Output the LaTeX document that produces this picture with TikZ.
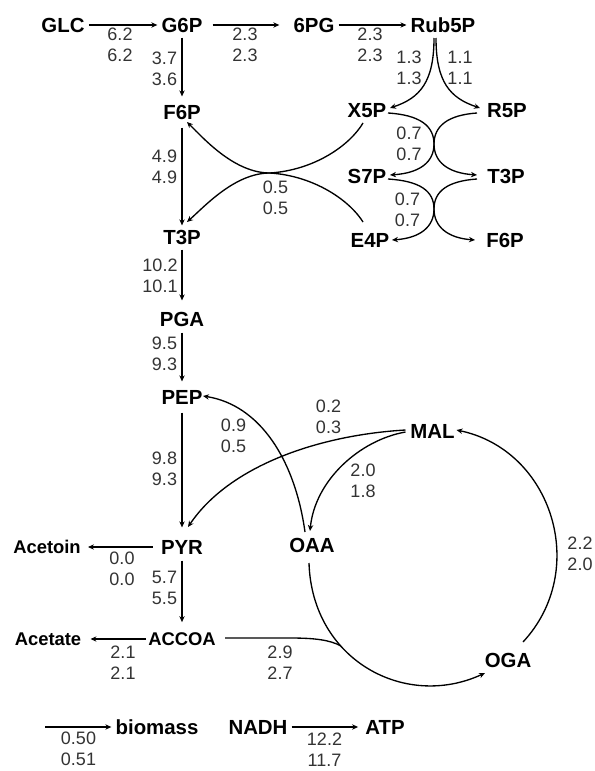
\documentclass[tikz,border=0pt]{standalone}
\usepackage{fontspec}
\setmainfont{Liberation Sans}
\usetikzlibrary{arrows.meta,calc}
\begin{document}
\begin{tikzpicture}[x=0.75pt,y=-0.75pt,
  met/.style={font=\fontsize{15.3}{18}\selectfont\bfseries, inner sep=3pt, text height=11pt, text depth=0pt, text=black},
  metsm/.style={met, font=\fontsize{13.8}{16}\selectfont\bfseries, text height=9.9pt},
  num/.style={font=\fontsize{13.5}{15.75}\selectfont, align=center, inner sep=0pt, text=black!80},
  arr/.style={-{Stealth[length=4.5pt,width=4pt]}, line width=1pt},
  ln/.style={line width=1pt}]
\useasboundingbox (0,0) rectangle (595,771);
% metabolites
\node[met] (GLC) at (63,25) {GLC};
\node[met] (G6P) at (182,25) {G6P};
\node[met] (6PG) at (314,25) {6PG};
\node[met] (Rub5P) at (443,25) {Rub5P};
\node[met] (F6P) at (182,112) {F6P};
\node[met] (X5P) at (367,110) {X5P};
\node[met] (R5P) at (507,110) {R5P};
\node[met] (S7P) at (367,176) {S7P};
\node[met] (T3Pr) at (506,176) {T3P};
\node[met] (E4P) at (370,240) {E4P};
\node[met] (F6Pr) at (505,240) {F6P};
\node[met] (T3P) at (182,237) {T3P};
\node[met] (PGA) at (182,319) {PGA};
\node[met] (PEP) at (182,397) {PEP};
\node[met] (MAL) at (432.5,431) {MAL};
\node[met] (PYR) at (182,547) {PYR};
\node[met] (OAA) at (312,545) {OAA};
\node[metsm] (Acetoin) at (47,547) {Acetoin};
\node[metsm] (ACCOA) at (182,639) {ACCOA};
\node[metsm] (Acetate) at (48,639) {Acetate};
\node[met] (OGA) at (508,660) {OGA};
\node[met] (biomass) at (157,727) {biomass};
\node[met] (NADH) at (258,727) {NADH};
\node[met] (ATP) at (385,727) {ATP};
% flux labels
\node[num] (f1) at (120,45) {6.2\\6.2};
\node[num] (f2) at (245,45) {2.3\\2.3};
\node[num] (f3) at (370,45) {2.3\\2.3};
\node[num] (f4) at (164.5,68.5) {3.7\\3.6};
\node[num] (f5) at (409,68) {1.3\\1.3};
\node[num] (f6) at (460,68) {1.1\\1.1};
\node[num] (f7) at (164.5,167) {4.9\\4.9};
\node[num] (f8) at (275.5,197.5) {0.5\\0.5};
\node[num] (f9) at (409,144) {0.7\\0.7};
\node[num] (f10) at (407.5,210) {0.7\\0.7};
\node[num] (f11) at (160,275.5) {10.2\\10.1};
\node[num] (f12) at (164.5,354) {9.5\\9.3};
\node[num] (f13) at (233.5,436) {0.9\\0.5};
\node[num] (f14) at (328.5,417) {0.2\\0.3};
\node[num] (f15) at (164.5,469) {9.8\\9.3};
\node[num] (f16) at (363,481) {2.0\\1.8};
\node[num] (f17) at (580,554) {2.2\\2.0};
\node[num] (f18) at (122,569) {0.0\\0.0};
\node[num] (f19) at (164.5,588) {5.7\\5.5};
\node[num] (f20) at (123,662.5) {2.1\\2.1};
\node[num] (f21) at (280,662.5) {2.9\\2.7};
\node[num] (f22) at (78.5,749) {0.50\\0.51};
\node[num] (f23) at (324.5,749.5) {12.2\\11.7};
% straight connectors
\draw[arr] (GLC) -- (G6P);
\draw[arr, shorten <=4.5pt, shorten >=7.5pt] (G6P) -- (6PG);
\draw[arr] (6PG) -- (Rub5P);
\draw[arr, shorten <=0.75pt, shorten >=3pt] (G6P) -- (F6P);
\draw[arr, shorten <=3pt] (F6P) -- (T3P);
\draw[arr, shorten <=0.75pt, shorten >=5.25pt] (T3P) -- (PGA);
\draw[arr, shorten <=1.5pt, shorten >=3pt] (PGA) -- (PEP);
\draw[arr, shorten <=3pt, shorten >=6pt] (PEP) -- (PYR);
\draw[arr, shorten <=1.5pt, shorten >=4.5pt] (PYR) -- (ACCOA);
\draw[arr, shorten <=3pt, shorten >=2.25pt] (PYR) -- (Acetoin);
\draw[arr, shorten <=-1.5pt, shorten >=3.75pt] (ACCOA) -- (Acetate);
\coordinate (bstart) at (45,727);
\draw[arr] (bstart) -- (biomass);
\draw[arr, shorten >=2.25pt] (NADH) -- (ATP);
% transketolase / transaldolase curves
\draw[arr] ($(X5P)+(-4,13)$) .. controls (350,145) and (315,170) .. (270,173)
  .. controls (235,173) and (205,140) .. ($(F6P)+(5,10)$);
\draw[arr] ($(E4P)+(-7,-18)$) .. controls (350,201) and (315,176) .. (270,173)
  .. controls (235,173) and (205,206) .. ($(T3P)+(5,-15)$);
\draw[arr] ($(Rub5P)+(-9,13)$) .. controls (434,82) and (420,98) .. ($(X5P)+(23,-2)$);
\draw[arr] ($(Rub5P)+(-7,13)$) .. controls (436,82) and (450,98) .. ($(R5P)+(-27,-2)$);
\draw[arr] ($(X5P)+(21,3)$) .. controls (420,115) and (434,126) .. (434,144)
  .. controls (434,162) and (448,173) .. ($(T3Pr)+(-29,-1)$);
\draw[arr] ($(R5P)+(-30,3)$) .. controls (448,115) and (434,126) .. (434,144)
  .. controls (434,162) and (420,173) .. ($(S7P)+(23,-1)$);
\draw[arr] ($(S7P)+(21,3)$) .. controls (420,181) and (434,191) .. (434,209)
  .. controls (434,227) and (448,238) .. ($(F6Pr)+(-30,0)$);
\draw[arr] ($(T3Pr)+(-29,3)$) .. controls (448,181) and (434,191) .. (434,209)
  .. controls (434,227) and (420,238) .. ($(E4P)+(22,0)$);
% anaplerotic / TCA curves
\draw[arr] ($(OAA)+(-7,-13)$) .. controls (295,460) and (260,405) .. ($(PEP)+(21,-1)$);
\draw[arr] ($(MAL)+(-27,-1)$) .. controls (320,435) and (230,465) .. ($(PYR)+(6,-20)$);
\draw[arr] ($(MAL)+(-27,1)$) .. controls (360,440) and (315,480) .. ($(OAA)+(-2,-14)$);
\draw[arr] ($(OGA)+(15,-18)$) .. controls (590,570) and (552,450) .. ($(MAL)+(24,-1)$);
\draw[arr] ($(OAA)+(-3,18)$) .. controls (312,660) and (405,710) .. ($(OGA)+(-23,13)$);
\coordinate (join) at (341,646);
\draw[ln] ($(ACCOA)+(43,-1)$) -- (290,638) .. controls (315,638) and (330,640) .. (join);
\end{tikzpicture}
\end{document}
